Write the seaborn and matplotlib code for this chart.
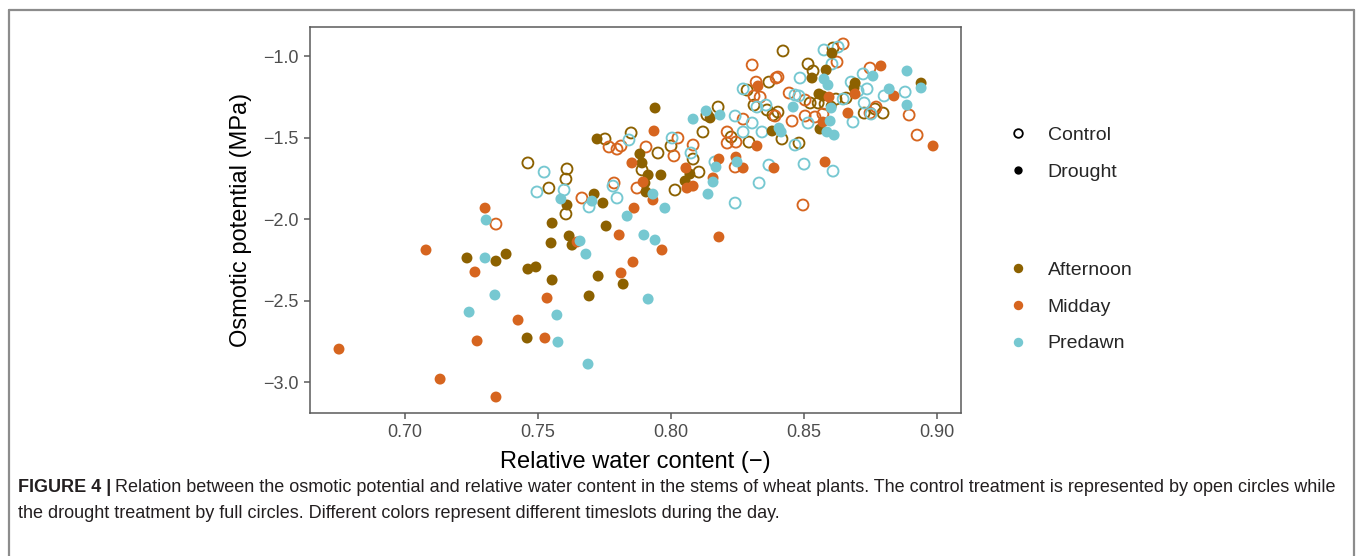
import matplotlib
matplotlib.use("Agg")
import matplotlib.pyplot as plt
from matplotlib.lines import Line2D
import numpy as np
import pandas as pd
import seaborn as sns

# ---------------- data ----------------
timeslots = ["Afternoon", "Midday", "Predawn"]
treatments = ["Control", "Drought"]
colors = {"Afternoon": "#8C6100", "Midday": "#D6651F", "Predawn": "#76C8D1"}

afternoon_drought_rwc = [0.7233, 0.7342, 0.7380, 0.7459, 0.7462, 0.7492, 0.7553, 0.7549, 0.7553, 0.7617,
                         0.7628, 0.7609, 0.7711, 0.7744, 0.7756, 0.7726, 0.7692, 0.7820, 0.7722, 0.7883,
                         0.7891, 0.7914, 0.7902, 0.7906, 0.7940, 0.7962, 0.8071, 0.8053, 0.8147, 0.8605,
                         0.8583, 0.8530, 0.8380, 0.8556, 0.8571, 0.8602, 0.8560, 0.8692, 0.8688, 0.8940]
afternoon_drought_op = [-2.239, -2.258, -2.215, -2.730, -2.307, -2.294, -2.374, -2.147, -2.025, -2.104,
                        -2.160, -1.914, -1.847, -1.902, -2.043, -2.350, -2.472, -2.399, -1.509, -1.601,
                        -1.656, -1.730, -1.779, -1.834, -1.319, -1.730, -1.724, -1.767, -1.380, -0.982,
                        -1.086, -1.135, -1.460, -1.233, -1.245, -1.307, -1.448, -1.166, -1.196, -1.166]

afternoon_control_rwc = [0.7462, 0.7541, 0.7609, 0.7605, 0.7605, 0.7752, 0.7850, 0.7891, 0.7951, 0.8015,
                         0.8000, 0.8120, 0.8135, 0.8177, 0.8083, 0.8105, 0.8226, 0.8293, 0.8421, 0.8609,
                         0.8515, 0.8534, 0.8368, 0.8286, 0.8312, 0.8361, 0.8402, 0.8383, 0.8417, 0.8523,
                         0.8553, 0.8620, 0.8579, 0.8481, 0.8658, 0.8726, 0.8767, 0.8797]
afternoon_control_op = [-1.656, -1.810, -1.693, -1.755, -1.969, -1.509, -1.472, -1.699, -1.595, -1.822,
                        -1.552, -1.466, -1.362, -1.313, -1.632, -1.712, -1.497, -1.528, -0.969, -0.951,
                        -1.049, -1.092, -1.160, -1.209, -1.301, -1.331, -1.344, -1.362, -1.509, -1.288,
                        -1.288, -1.264, -1.294, -1.534, -1.258, -1.350, -1.325, -1.350]

midday_drought_rwc = [0.7301, 0.7079, 0.7263, 0.7425, 0.7271, 0.6752, 0.7132, 0.7342, 0.7526, 0.7534,
                      0.7647, 0.7805, 0.7857, 0.7812, 0.7966, 0.8180, 0.7861, 0.7932, 0.7853, 0.7895,
                      0.7936, 0.8056, 0.8060, 0.8083, 0.8180, 0.8158, 0.8244, 0.8271, 0.8327, 0.8323,
                      0.8387, 0.8594, 0.8571, 0.8579, 0.8692, 0.8665, 0.8789, 0.8838, 0.8985]
midday_drought_op = [-1.933, -2.190, -2.325, -2.620, -2.748, -2.798, -2.982, -3.092, -2.730, -2.485,
                     -2.141, -2.098, -2.264, -2.331, -2.190, -2.110, -1.933, -1.883, -1.656, -1.773,
                     -1.460, -1.687, -1.810, -1.798, -1.632, -1.748, -1.620, -1.687, -1.184, -1.552,
                     -1.687, -1.252, -1.405, -1.650, -1.233, -1.350, -1.061, -1.245, -1.552]

midday_control_rwc = [0.7342, 0.7665, 0.7786, 0.7767, 0.7797, 0.7812, 0.7872, 0.7906, 0.8011, 0.8026,
                      0.8083, 0.8211, 0.8211, 0.8244, 0.8241, 0.8271, 0.8305, 0.8647, 0.8624, 0.8402,
                      0.8395, 0.8320, 0.8312, 0.8335, 0.8391, 0.8455, 0.8444, 0.8504, 0.8504, 0.8541,
                      0.8571, 0.8496, 0.8748, 0.8748, 0.8771, 0.8895, 0.8925]
midday_control_op = [-2.031, -1.871, -1.779, -1.558, -1.571, -1.552, -1.810, -1.558, -1.613, -1.503,
                     -1.546, -1.466, -1.534, -1.528, -1.681, -1.387, -1.055, -0.926, -1.037, -1.129,
                     -1.135, -1.160, -1.245, -1.252, -1.368, -1.399, -1.227, -1.270, -1.368, -1.374,
                     -1.356, -1.914, -1.074, -1.350, -1.313, -1.362, -1.485]

predawn_drought_rwc = [0.7305, 0.7301, 0.7338, 0.7241, 0.7571, 0.7575, 0.7688, 0.7658, 0.7680, 0.7586,
                       0.7703, 0.7835, 0.7898, 0.7940, 0.7914, 0.7932, 0.7977, 0.8083, 0.8132, 0.8184,
                       0.8169, 0.8158, 0.8139, 0.8248, 0.8575, 0.8590, 0.8406, 0.8414, 0.8602, 0.8459,
                       0.8598, 0.8586, 0.8613, 0.8759, 0.8887, 0.8940, 0.8820, 0.8887]
predawn_drought_op = [-2.006, -2.239, -2.466, -2.571, -2.589, -2.755, -2.890, -2.135, -2.215, -1.877,
                      -1.890, -1.982, -2.098, -2.129, -2.491, -1.847, -1.933, -1.387, -1.337, -1.362,
                      -1.681, -1.773, -1.847, -1.650, -1.141, -1.178, -1.442, -1.466, -1.319, -1.313,
                      -1.399, -1.466, -1.485, -1.123, -1.092, -1.196, -1.202, -1.301]

predawn_control_rwc = [0.7523, 0.7496, 0.7598, 0.7692, 0.7797, 0.7782, 0.7842, 0.8004, 0.8075, 0.8165,
                       0.8241, 0.8271, 0.8241, 0.8575, 0.8628, 0.8605, 0.8485, 0.8357, 0.8323, 0.8305,
                       0.8271, 0.8342, 0.8466, 0.8481, 0.8515, 0.8466, 0.8500, 0.8609, 0.8331, 0.8368,
                       0.8647, 0.8677, 0.8703, 0.8737, 0.8722, 0.8801, 0.8880, 0.8726, 0.8752, 0.8684]
predawn_control_op = [-1.712, -1.834, -1.822, -1.926, -1.871, -1.798, -1.515, -1.503, -1.595, -1.650,
                      -1.368, -1.202, -1.902, -0.963, -0.945, -1.049, -1.135, -1.301, -1.313, -1.411,
                      -1.466, -1.466, -1.239, -1.245, -1.411, -1.546, -1.663, -1.706, -1.779, -1.669,
                      -1.264, -1.160, -1.215, -1.202, -1.110, -1.245, -1.221, -1.288, -1.356, -1.405]

x_ticks = [0.70, 0.75, 0.80, 0.85, 0.90]
y_ticks = [-1.0, -1.5, -2.0, -2.5, -3.0]
x_label = "Relative water content (\u2212)"
y_label = "Osmotic potential (MPa)"
caption_bold = "FIGURE 4 |"
caption_line1 = ("Relation between the osmotic potential and relative water content in the stems of wheat "
                 "plants. The control treatment is represented by open circles while")
caption_line2 = "the drought treatment by full circles. Different colors represent different timeslots during the day."

# ---------------- build table ----------------
series = {
    ("Afternoon", "Drought"): (afternoon_drought_rwc, afternoon_drought_op),
    ("Afternoon", "Control"): (afternoon_control_rwc, afternoon_control_op),
    ("Midday", "Drought"): (midday_drought_rwc, midday_drought_op),
    ("Midday", "Control"): (midday_control_rwc, midday_control_op),
    ("Predawn", "Drought"): (predawn_drought_rwc, predawn_drought_op),
    ("Predawn", "Control"): (predawn_control_rwc, predawn_control_op),
}
rows = []
for (ts, tr), (xs, ys) in series.items():
    for xv, yv in zip(xs, ys):
        rows.append({"RWC": xv, "OP": yv, "Timeslot": ts, "Treatment": tr})
df = pd.DataFrame(rows)

# ---------------- plotting ----------------
sns.set_theme(style="white")
plt.rcParams["font.family"] = ["Liberation Sans", "DejaVu Sans"]

W, H = 1358, 556
fig = plt.figure(figsize=(W / 100, H / 100), dpi=100)
ax = fig.add_axes([310 / W, 1 - 413 / H, (961 - 310) / W, (413 - 27) / H])

# control (open circles)
ctrl = df[df.Treatment == "Control"]
sns.scatterplot(data=ctrl, x="RWC", y="OP", hue="Timeslot", palette=colors,
                hue_order=timeslots, s=62, linewidth=1.35, legend=False, ax=ax)
coll = ax.collections[-1]
fcs = coll.get_facecolors()
coll.set_edgecolors(fcs)
coll.set_facecolors("none")

# drought (filled circles)
dr = df[df.Treatment == "Drought"]
sns.scatterplot(data=dr, x="RWC", y="OP", hue="Timeslot", palette=colors,
                hue_order=timeslots, s=62, linewidth=0, legend=False, ax=ax)

ax.set_xlim(0.6643, 0.909)
ax.set_ylim(-3.190, -0.822)
ax.set_xticks(x_ticks)
ax.set_xticklabels([f"{v:.2f}" for v in x_ticks])
ax.set_yticks(y_ticks)
ax.set_yticklabels([f"{v:.1f}".replace("-", "\u2212") for v in y_ticks])

axis_grey = "#5a5a5a"
for sp in ax.spines.values():
    sp.set_visible(True)
    sp.set_color(axis_grey)
    sp.set_linewidth(1.1)
ax.tick_params(axis="both", which="major", direction="out", length=4, width=1.1,
               color=axis_grey, labelcolor="#4D4D4D", labelsize=13, pad=4,
               bottom=True, left=True)
ax.set_xlabel(x_label, fontsize=17, color="black", labelpad=7)
ax.set_ylabel(y_label, fontsize=17, color="black", labelpad=8)
ax.grid(False)

# ---------------- legends ----------------
h_treat = [Line2D([], [], linestyle="", marker="o", markersize=6.2, markerfacecolor="none",
                  markeredgecolor="black", markeredgewidth=1.3),
           Line2D([], [], linestyle="", marker="o", markersize=6.0, markerfacecolor="black",
                  markeredgecolor="black", markeredgewidth=0)]
leg1 = fig.legend(h_treat, treatments, loc="center left", bbox_to_anchor=(1008 / W, 1 - 153.5 / H),
                  frameon=False, fontsize=14, handlelength=1.0, handletextpad=1.05,
                  labelspacing=0.98, borderpad=0, borderaxespad=0)
h_time = [Line2D([], [], linestyle="", marker="o", markersize=6.8, markerfacecolor=colors[t],
                 markeredgewidth=0) for t in timeslots]
leg2 = fig.legend(h_time, timeslots, loc="center left", bbox_to_anchor=(1008 / W, 1 - 307 / H),
                  frameon=False, fontsize=14, handlelength=1.0, handletextpad=1.05,
                  labelspacing=0.98, borderpad=0, borderaxespad=0)

# ---------------- frame ----------------
frame_col = "#8c8c8c"
fx0, fx1, fy0 = 8.5 / W, 1354 / W, 1 - 10 / H
fig.add_artist(Line2D([fx0, fx0], [0, fy0], transform=fig.transFigure, color=frame_col, linewidth=1.6))
fig.add_artist(Line2D([fx0, fx1], [fy0, fy0], transform=fig.transFigure, color=frame_col, linewidth=1.6))
fig.add_artist(Line2D([fx1, fx1], [0, fy0], transform=fig.transFigure, color=frame_col, linewidth=1.6))

# ---------------- caption ----------------
cap_size = 13
cap_col = "#231f20"
t_bold = fig.text(18 / W, 1 - 488 / H, caption_bold, fontsize=cap_size, fontweight="bold",
                  color=cap_col, ha="left", va="center")
fig.canvas.draw()
bb = t_bold.get_window_extent(renderer=fig.canvas.get_renderer())
fig.text((bb.x1 + 4) / W, 1 - 488 / H, caption_line1, fontsize=cap_size, color=cap_col,
         ha="left", va="center")
fig.text(18 / W, 1 - 513 / H, caption_line2, fontsize=cap_size, color=cap_col,
         ha="left", va="center")

fig.savefig("out.png", dpi=100, facecolor="white")
